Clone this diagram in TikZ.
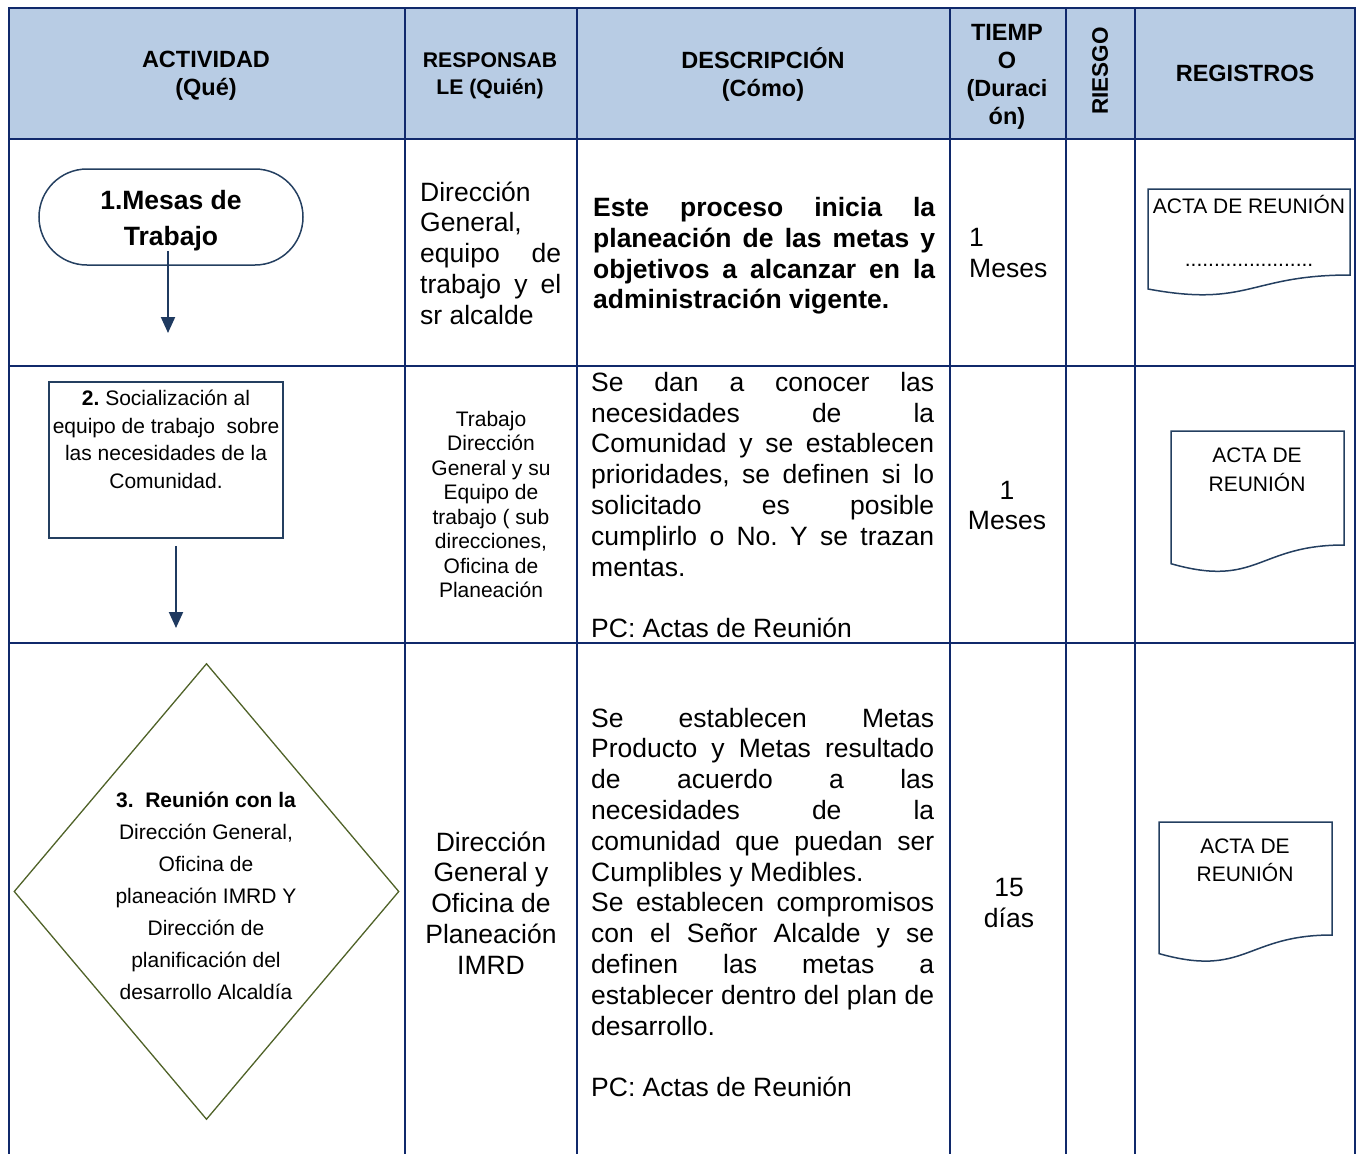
\documentclass[tikz,border=0pt]{standalone}
\usepackage{fontspec}
\setmainfont{Liberation Sans}
\usetikzlibrary{arrows.meta,shapes.geometric}

\definecolor{gridblue}{HTML}{10296B}
\definecolor{hdrfill}{HTML}{B8CCE4}
\definecolor{shapeblue}{HTML}{243F60}
\definecolor{arrowblue}{HTML}{1F3A60}
\definecolor{olive}{HTML}{4F6228}

\newcommand{\jl}[2]{\makebox[#1][s]{#2}}
\frenchspacing

\begin{document}
\begin{tikzpicture}[
    x=1pt, y=-1pt,
    grid/.style={draw=gridblue, line width=2.2pt},
    hdr/.style={font=\bfseries\fontsize{23.5}{28}\selectfont, align=center, inner sep=0pt},
    txt/.style={font=\fontsize{26.5}{30.8}\selectfont, align=center, inner sep=0pt},
    txtleft/.style={txt, align=left},
    smalltxt/.style={font=\fontsize{21}{24.5}\selectfont, align=center, inner sep=0pt},
    terminal/.style={draw=shapeblue, line width=1.5pt, rounded corners=48pt,
      minimum width=264pt, minimum height=96pt},
    procbox/.style={draw=shapeblue, line width=1.5pt, minimum width=234pt, minimum height=156pt},
    decision/.style={diamond, draw=olive, line width=1.3pt, inner sep=0pt,
      minimum width=385pt, minimum height=456pt},
    flowarrow/.style={draw=arrowblue, line width=2pt, -{Triangle[width=14pt,length=16pt]}},
    doc/.style={draw=shapeblue, line width=1.5pt},
  ]
  \useasboundingbox (0,0) rectangle (1358,1154);
  \fill[hdrfill] (8,8) rectangle (1355,139);
  \foreach \x in {9,405,577,950,1066,1135,1355}
    \draw[grid] (\x,8) -- (\x,1154);
  \foreach \y in {8,139,366,643}
    \draw[grid] (8,\y) -- (1356,\y);

  \node[hdr] (hact) at (206,76) {ACTIVIDAD\\(Qué)};
  \node[hdr, font=\bfseries\fontsize{21.2}{27}\selectfont] (hresp) at (490,75.5) {RESPONSAB\\LE (Quién)};
  \node[hdr] (hdesc) at (763,75) {DESCRIPCIÓN\\(Cómo)};
  \node[hdr] (htiempo) at (1007,77) {TIEMP\\O\\(Duraci\\ón)};
  \node[hdr, font=\bfseries\fontsize{22.5}{27}\selectfont, rotate=90] (hriesgo) at (1100,71) {RIESGO};
  \node[hdr] (hreg) at (1245,73) {REGISTROS};

  \node[terminal] (mesas) at (171,217) {};
  \node[hdr, font=\bfseries\fontsize{26.5}{36}\selectfont] (mesastxt) at (171,221) {1.Mesas de\\Trabajo};
  \coordinate (a1top) at ([xshift=-3pt,yshift=15pt]mesas.south);
  \coordinate (a1end) at (168,333);
  \draw[flowarrow] (a1top) -- (a1end);

  \node[procbox] (act2) at (166,460) {};
  \node[smalltxt, font=\fontsize{21}{27.7}\selectfont] (act2txt) at (166,439.5)
    {\textbf{2.} Socialización al\\equipo de trabajo\ \ sobre\\las necesidades de la\\Comunidad.};
  \coordinate (a2top) at ([xshift=10pt,yshift=-7pt]act2.south);
  \coordinate (a2end) at (176,628);
  \draw[flowarrow] (a2top) -- (a2end);

  \node[decision] (act3) at (206.5,891.5) {};
  \node[smalltxt, font=\fontsize{21}{32}\selectfont] (act3txt) at (206,896)
    {\textbf{3.\ \ Reunión con la}\\Dirección General,\\Oficina de\\planeación IMRD Y\\Dirección de\\planificación del\\desarrollo Alcaldía};

  \node[txtleft, anchor=west] (resp1) at (420,253)
    {Dirección\\General,\\\jl{141pt}{equipo de}\\\jl{141pt}{trabajo y el}\\sr alcalde};
  \node[smalltxt] (resp2) at (491,504.5)
    {Trabajo\\Dirección\\General y su\\Equipo de\\trabajo ( sub\\direcciones,\\Oficina de\\Planeación};
  \node[txt] (resp3) at (491,903)
    {Dirección\\General y\\Oficina de\\Planeación\\IMRD};

  \node[txtleft, anchor=west, font=\bfseries\fontsize{26.5}{30.8}\selectfont] (desc1) at (593,256)
    {\jl{342pt}{Este proceso inicia la}\\\jl{342pt}{planeación de las metas y}\\\jl{342pt}{objetivos a alcanzar en la}\\administración vigente.};
  \node[txtleft, anchor=west] (desc2) at (591,505)
    {\jl{343pt}{Se dan a conocer las}\\\jl{343pt}{necesidades de la}\\\jl{343pt}{Comunidad y se establecen}\\\jl{343pt}{prioridades, se definen si lo}\\\jl{343pt}{solicitado es posible}\\\jl{343pt}{cumplirlo o No. Y se trazan}\\mentas.\\[30.8pt]PC: Actas de Reunión};
  \node[txtleft, anchor=west] (desc3) at (591,902.5)
    {\jl{343pt}{Se establecen Metas}\\\jl{343pt}{Producto y Metas resultado}\\\jl{343pt}{de acuerdo a las}\\\jl{343pt}{necesidades de la}\\\jl{343pt}{comunidad que puedan ser}\\Cumplibles y Medibles.\\\jl{343pt}{Se establecen compromisos}\\\jl{343pt}{con el Señor Alcalde y se}\\\jl{343pt}{definen las metas a}\\\jl{343pt}{establecer dentro del plan de}\\desarrollo.\\[30.8pt]PC: Actas de Reunión};

  \node[txtleft, anchor=west] (time1) at (969,253) {1\\Meses};
  \node[txt] (time2) at (1007,505.5) {1\\Meses};
  \node[txt] (time3) at (1009,903) {15\\días};

  \draw[doc] (1148,189) -- (1350,189) -- (1350,275) .. controls (1249,275) and (1249,307.7) .. (1148,289) -- cycle;
  \node[smalltxt, font=\fontsize{21}{24}\selectfont] (reg1) at (1249,204) {ACTA DE REUNIÓN};
  \node[smalltxt, font=\fontsize{21}{24}\selectfont] (reg1dots) at (1249,265) {......................};
  \draw[doc] (1171,431) -- (1344,431) -- (1344,545) .. controls (1257.5,545) and (1257.5,588.4) .. (1171,563.7) -- cycle;
  \node[smalltxt, font=\fontsize{21}{29}\selectfont] (reg2) at (1257,469.5) {ACTA DE\\REUNIÓN};
  \draw[doc] (1159,822) -- (1332,822) -- (1332,935) .. controls (1245.5,935) and (1245.5,978) .. (1159,953.6) -- cycle;
  \node[smalltxt, font=\fontsize{21}{28}\selectfont] (reg3) at (1245,860) {ACTA DE\\REUNIÓN};
\end{tikzpicture}
\end{document}
